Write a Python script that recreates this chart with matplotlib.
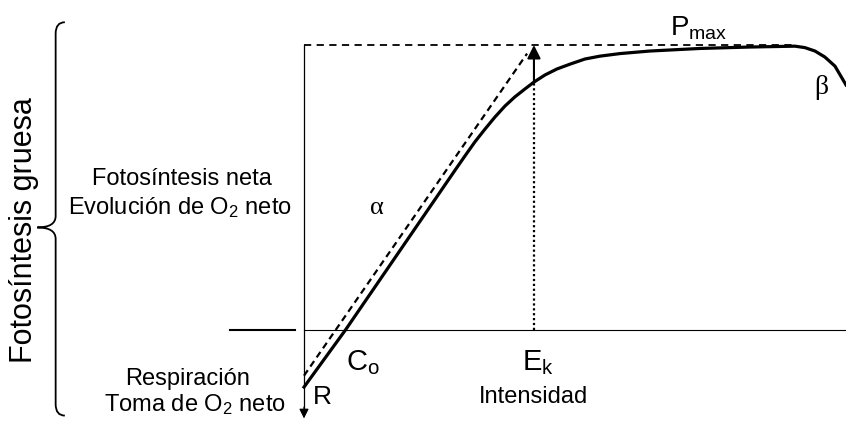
import matplotlib
matplotlib.use("Agg")
import matplotlib.pyplot as plt
from matplotlib.path import Path
from matplotlib.patches import PathPatch

plt.rcParams['font.family'] = ['Liberation Sans', 'DejaVu Sans']
plt.rcParams['mathtext.fontset'] = 'custom'
plt.rcParams['mathtext.rm'] = 'Liberation Sans'
plt.rcParams['mathtext.it'] = 'Liberation Sans:italic'

# P-I curve (intensity in units of Ek = 100, production in units of Pmax = 100)
intensity = [0, 18, 65.7, 70, 74.3, 78.7, 83, 87.4, 91.7, 96.1, 100, 104.8, 110,
             115.7, 122.2, 128.7, 137.4, 150.4, 172.2, 193.9, 213.5, 217.8,
             222.2, 226.5, 230.9, 235.7]
production = [-20, 0, 56.1, 61.1, 66, 70.5, 74.7, 78.6, 81.8, 84.6, 87, 89.5, 91.6,
              93.3, 95.1, 96.1, 97, 97.9, 98.8, 99.3, 99.6, 99.1,
              97.9, 95.8, 92.6, 86]

# initial slope (alpha) line
alpha_x = [0, 97]
alpha_y = [-16, 97]

p_max = 100
e_k = 100
p_at_ek = 87
pmax_end = 213
resp_bottom = -31

fig = plt.figure(figsize=(8.46, 4.23), dpi=100)
ax = fig.add_axes([0, 0, 1, 1])
ax.set_xlim(-132.2, 235.7)
ax.set_ylim(-32.6, 115.8)
ax.axis('off')

# axes of the diagram
ax.plot([0, 0], [p_max, resp_bottom + 3], color='black', lw=0.9)
ax.annotate('', xy=(0, resp_bottom), xytext=(0, resp_bottom + 4),
            arrowprops=dict(arrowstyle='-|>', color='black', lw=0.9,
                            mutation_scale=14, shrinkA=0, shrinkB=0))
ax.plot([0, 236], [0, 0], color='black', lw=0.8)
ax.plot([-32, -4], [0, 0], color='black', lw=1.5)

# Pmax dashed line and Ek marks
ax.plot([0, pmax_end], [p_max, p_max], color='black', lw=1.3, linestyle=(0, (4, 3)))
ax.plot([e_k, e_k], [0, p_at_ek], color='black', lw=1.6, linestyle=(0, (1, 1.2)))
ax.annotate('', xy=(e_k, p_max), xytext=(e_k, p_at_ek),
            arrowprops=dict(arrowstyle='-|>', color='black', lw=1.5,
                            mutation_scale=20, shrinkA=0, shrinkB=0))

# curve and initial slope
ax.plot(alpha_x, alpha_y, color='black', lw=1.6, linestyle=(0, (3, 2)))
ax.plot(intensity, production, color='black', lw=2.3, solid_joinstyle='round')

# brace
bx, tip, end = -108, -116, -104
top, mid, bot = 108, 36, -30
verts = [(end, top), (bx, top), (bx, top - 4),
         (bx, mid + 4), (bx, mid), (tip, mid),
         (bx, mid), (bx, mid - 4),
         (bx, bot + 4), (bx, bot), (end, bot)]
codes = [Path.MOVETO, Path.CURVE3, Path.CURVE3,
         Path.LINETO, Path.CURVE3, Path.CURVE3,
         Path.CURVE3, Path.CURVE3,
         Path.LINETO, Path.CURVE3, Path.CURVE3]
ax.add_patch(PathPatch(Path(verts, codes), facecolor='none', edgecolor='black', lw=1.3))

fs = 17
ax.text(-121.7, 35, 'Fotosíntesis gruesa', rotation=90, fontsize=22,
        ha='center', va='center')
ax.text(-53, 53, 'Fotosíntesis neta', fontsize=fs, ha='center', va='center')
ax.text(-54, 43, 'Evolución de O$_2$ neto', fontsize=fs, ha='center', va='center')
ax.text(-50.5, -17, 'Respiración', fontsize=fs, ha='center', va='center')
ax.text(-47.5, -26, 'Toma de O$_2$ neto', fontsize=fs, ha='center', va='center')
ax.text(99.6, -23.5, 'Intensidad', fontsize=fs, ha='center', va='center')
ax.text(4, -23.5, 'R', fontsize=19, ha='left', va='center')
ax.text(18.3, -11.5, 'C$_\\mathregular{o}$', fontsize=21, ha='left', va='center')
ax.text(94.8, -11.5, 'E$_\\mathregular{k}$', fontsize=21, ha='left', va='center')
ax.text(159, 106, 'P$_\\mathregular{max}$', fontsize=20, ha='left', va='center')
ax.text(31.7, 43, 'α', fontsize=19, ha='center', va='center', family='Liberation Serif')
ax.text(225, 85, 'β', fontsize=20, ha='center', va='center', family='Liberation Serif')

fig.savefig('out.png', dpi=100)
